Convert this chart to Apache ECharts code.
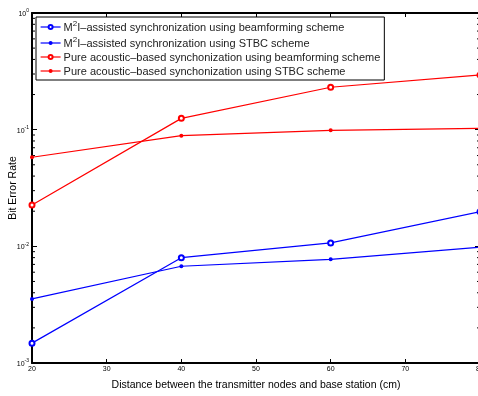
<!DOCTYPE html>
<html>
<head>
<meta charset="utf-8">
<script src="https://cdn.jsdelivr.net/npm/echarts@6/dist/echarts.min.js"></script>
<style>
html,body{margin:0;padding:0;background:#fff;}
#chart{width:478px;height:396px;}
</style>
</head>
<body>
<div id="chart"></div>
<script>
// Distance (cm)
const distances = [20, 40, 60, 80];

// Bit error rate for each scheme
const m2iBeamforming = [0.00148, 0.00799, 0.0107, 0.0198];
const m2iStbc = [0.00354, 0.00675, 0.00774, 0.00981];
const acousticBeamforming = [0.0226, 0.125, 0.231, 0.294];
const acousticStbc = [0.058, 0.0888, 0.0988, 0.1028];

const seriesNames = [
  'M2I beamforming',
  'M2I STBC',
  'Acoustic beamforming',
  'Acoustic STBC'
];
const legendLabels = {
  'M2I beamforming': '{t|M}{s|2}{t|I\u2013assisted synchronization using beamforming scheme}',
  'M2I STBC': '{t|M}{s|2}{t|I\u2013assisted synchronization using STBC scheme}',
  'Acoustic beamforming': '{t|Pure acoustic\u2013based synchonization using beamforming scheme}',
  'Acoustic STBC': '{t|Pure acoustic\u2013based synchonization using STBC scheme}'
};

// Log-axis minor tick values (2..9 per decade)
const minorTickValues = [];
[0.001, 0.01, 0.1].forEach(function (d) {
  for (let k = 2; k <= 9; k++) minorTickValues.push(d * k);
});

const font = 'Liberation Sans, Arial, Helvetica, sans-serif';

function pairs(ys) {
  return distances.map(function (x, i) { return [x, ys[i]]; });
}

function logLabel(v) {
  const e = Math.round(Math.log10(v));
  return '{b|10}{s|' + e + '}';
}

const chart = echarts.init(document.getElementById('chart'), null, { renderer: 'canvas' });

const lineBase = {
  type: 'line',
  xAxisIndex: 0,
  yAxisIndex: 0,
  animation: false,
  silent: true
};

chart.setOption({
  animation: false,
  backgroundColor: '#ffffff',
  grid: { left: 32, top: 13, width: 448, height: 350, containLabel: false, outerBoundsMode: 'none' },
  legend: {
    data: seriesNames,
    orient: 'vertical',
    left: 36,
    top: 17,
    padding: [3, 4, 3, 4],
    itemGap: 3,
    itemWidth: 20,
    itemHeight: 5,
    borderColor: '#000',
    borderWidth: 1,
    backgroundColor: '#fff',
    selectedMode: false,
    lineStyle: { width: 1.2 },
    itemStyle: { borderWidth: 1 },
    formatter: function (name) { return legendLabels[name]; },
    textStyle: {
      fontFamily: font,
      color: '#000',
      padding: [0, 0, 0, -2],
      rich: {
        t: { fontFamily: font, fontSize: 11, color: '#222', verticalAlign: 'bottom', lineHeight: 12 },
        s: { fontFamily: font, fontSize: 8, color: '#222', verticalAlign: 'bottom', padding: [0, 0, 5, 0], lineHeight: 8 }
      }
    }
  },
  xAxis: [
    {
      type: 'value',
      min: 20,
      max: 80,
      interval: 10,
      position: 'bottom',
      name: 'Distance between the transmitter nodes and base station (cm)',
      nameLocation: 'middle',
      nameGap: 17,
      nameMoveOverlap: false,
      nameTextStyle: { fontFamily: font, fontSize: 10.5, color: '#000' },
      axisLine: { show: true, onZero: false, lineStyle: { color: '#000', width: 2 } },
      axisTick: { show: true, inside: true, length: 4, lineStyle: { color: '#000', width: 1 } },
      axisLabel: { show: true, margin: 3, fontFamily: font, fontSize: 7, color: '#000' },
      splitLine: { show: false }
    },
    {
      type: 'value',
      min: 20,
      max: 80,
      interval: 10,
      position: 'top',
      axisLine: { show: true, onZero: false, lineStyle: { color: '#000', width: 2 } },
      axisTick: { show: true, inside: true, length: 4, lineStyle: { color: '#000', width: 1 } },
      axisLabel: { show: false },
      splitLine: { show: false }
    }
  ],
  yAxis: [
    {
      type: 'log',
      logBase: 10,
      min: 0.001,
      max: 1,
      position: 'left',
      name: 'Bit Error Rate',
      nameLocation: 'middle',
      nameGap: 13,
      nameMoveOverlap: false,
      nameTextStyle: { fontFamily: font, fontSize: 10.5, color: '#000' },
      axisLine: { show: true, onZero: false, lineStyle: { color: '#000', width: 2 } },
      axisTick: { show: true, inside: true, length: 5, lineStyle: { color: '#000', width: 1 } },
      axisLabel: {
        show: true,
        margin: 3,
        formatter: logLabel,
        rich: {
          b: { fontFamily: font, fontSize: 7, color: '#000', verticalAlign: 'bottom' },
          s: { fontFamily: font, fontSize: 5, color: '#000', verticalAlign: 'bottom', padding: [0, 0, 4, 0] }
        }
      },
      splitLine: { show: false }
    },
    {
      type: 'log',
      logBase: 10,
      min: 0.001,
      max: 1,
      position: 'right',
      axisLine: { show: true, onZero: false, lineStyle: { color: '#000', width: 2 } },
      axisTick: { show: true, inside: true, length: 5, lineStyle: { color: '#000', width: 1 } },
      axisLabel: { show: false },
      splitLine: { show: false }
    }
  ],
  series: [
    Object.assign({}, lineBase, {
      name: seriesNames[0],
      data: pairs(m2iBeamforming),
      symbol: 'emptyCircle',
      symbolSize: 5,
      lineStyle: { color: '#0000ff', width: 1.2 },
      itemStyle: { color: '#0000ff', borderColor: '#0000ff', borderWidth: 1 },
      z: 5
    }),
    Object.assign({}, lineBase, {
      name: seriesNames[1],
      data: pairs(m2iStbc),
      symbol: 'circle',
      symbolSize: 4,
      lineStyle: { color: '#0000ff', width: 1.2 },
      itemStyle: { color: '#0000ff' },
      z: 5
    }),
    Object.assign({}, lineBase, {
      name: seriesNames[2],
      data: pairs(acousticBeamforming),
      symbol: 'emptyCircle',
      symbolSize: 5,
      lineStyle: { color: '#ff0000', width: 1.2 },
      itemStyle: { color: '#ff0000', borderColor: '#ff0000', borderWidth: 1 },
      z: 5
    }),
    Object.assign({}, lineBase, {
      name: seriesNames[3],
      data: pairs(acousticStbc),
      symbol: 'circle',
      symbolSize: 4,
      lineStyle: { color: '#ff0000', width: 1.2 },
      itemStyle: { color: '#ff0000' },
      z: 5
    }),
    {
      // minor ticks of the log axis, on both the left and right frame
      type: 'custom',
      name: 'minorTicks',
      xAxisIndex: 0,
      yAxisIndex: 0,
      silent: true,
      animation: false,
      clip: false,
      data: minorTickValues.map(function (v) { return [v]; }),
      renderItem: function (params, api) {
        const v = api.value(0);
        const l = api.coord([20, v]);
        const r = api.coord([80, v]);
        return {
          type: 'group',
          children: [
            { type: 'line', shape: { x1: l[0], y1: l[1], x2: l[0] + 3, y2: l[1] }, style: { stroke: '#000', lineWidth: 1 } },
            { type: 'line', shape: { x1: r[0], y1: r[1], x2: r[0] - 3, y2: r[1] }, style: { stroke: '#000', lineWidth: 1 } }
          ]
        };
      },
      z: 3
    }
  ]
});
</script>
</body>
</html>
